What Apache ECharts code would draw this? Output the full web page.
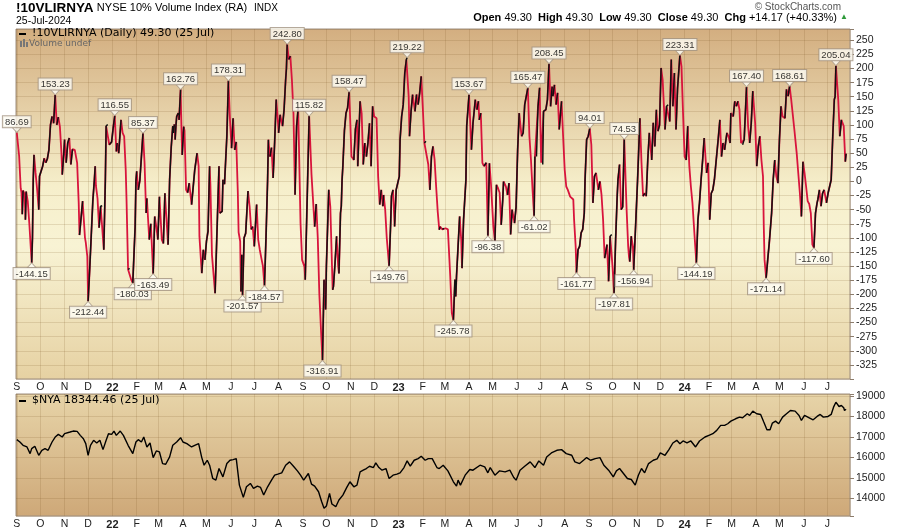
<!DOCTYPE html>
<html><head><meta charset="utf-8">
<script src="https://cdn.jsdelivr.net/npm/echarts@6/dist/echarts.min.js"></script>
<style>html,body{margin:0;padding:0;background:#fff;}#c{width:900px;height:531px;}</style>
</head><body><div id="c"></div>
<script>
const monthLetters = ['J','F','M','A','M','J','J','A','S','O','N','D'];

// !10VLIRNYA daily (vertices)
const oscData = [
['2021-09-01',86.69],['2021-09-04',45],['2021-09-06',-12],['2021-09-07',-20],['2021-09-08',-58],['2021-09-09',-16],['2021-09-11',-22],['2021-09-12',-68],['2021-09-13',-18],['2021-09-15',-35],['2021-09-17',-75],['2021-09-20',-144.15],['2021-09-21',-100],['2021-09-22',3],['2021-09-23',47],['2021-09-25',15],['2021-09-27',-15],['2021-09-29',-50],['2021-09-30',9],
['2021-10-02',12],['2021-10-04',27],['2021-10-06',41],['2021-10-08',33],['2021-10-10',40],['2021-10-12',56],['2021-10-14',100],['2021-10-16',115],['2021-10-18',103],['2021-10-20',153.23],['2021-10-22',100],['2021-10-24',114],['2021-10-26',97],['2021-10-28',50],['2021-10-29',12],['2021-10-31',50],
['2021-11-01',74],['2021-11-03',33],['2021-11-05',68],['2021-11-07',77],['2021-11-09',30],['2021-11-11',57],['2021-11-14',56],['2021-11-17',33],['2021-11-19',-38],['2021-11-20',-95],['2021-11-24',-35],['2021-11-27',-100],['2021-11-28',-108],['2021-11-30',-133],
['2021-12-01',-212.44],['2021-12-03',-156],['2021-12-07',-35],['2021-12-09',3],['2021-12-10',27],['2021-12-11',-8],['2021-12-13',-30],['2021-12-15',-82],['2021-12-17',-44],['2021-12-19',-43],['2021-12-21',-121],['2021-12-23',3],['2021-12-24',98],['2021-12-26',101],['2021-12-28',65],['2021-12-31',70],
['2022-01-02',95],['2022-01-04',116.55],['2022-01-06',53],['2022-01-07',68],['2022-01-09',50],['2022-01-12',109],['2022-01-14',86],['2022-01-16',80],['2022-01-18',20],['2022-01-19',-32],['2022-01-21',-156],['2022-01-23',-154],['2022-01-25',-174],['2022-01-27',-180.03],['2022-01-30',-80],['2022-01-31',0],
['2022-02-01',18],['2022-02-03',-15],['2022-02-05',2],['2022-02-07',44],['2022-02-09',85.37],['2022-02-11',33],['2022-02-13',-56],['2022-02-14',-30],['2022-02-17',-103],['2022-02-19',-75],['2022-02-20',-104],['2022-02-22',-163.49],['2022-02-24',-62],['2022-02-26',-80],['2022-02-28',-103],
['2022-03-02',-27],['2022-03-05',-103],['2022-03-07',-110],['2022-03-09',-21],['2022-03-11',-68],['2022-03-13',-112],['2022-03-15',3],['2022-03-17',60],['2022-03-19',98],['2022-03-20',86],['2022-03-21',101],['2022-03-22',74],['2022-03-23',98],['2022-03-24',115],['2022-03-26',121],['2022-03-27',109],['2022-03-29',162.76],['2022-03-30',100],['2022-03-31',47],
['2022-04-02',97],['2022-04-03',90],['2022-04-05',-15],['2022-04-07',-20],['2022-04-09',-3],['2022-04-12',-41],['2022-04-16',20],['2022-04-19',50],['2022-04-21',27],['2022-04-22',-97],['2022-04-25',-162.5],['2022-04-27',-121],['2022-04-29',-139],
['2022-05-01',-106],['2022-05-03',-88],['2022-05-05',27],['2022-05-06',-5],['2022-05-08',-130],['2022-05-12',-198],['2022-05-15',-62],['2022-05-17',27],['2022-05-18',-56],['2022-05-21',-53],['2022-05-22',3],['2022-05-24',-5],['2022-05-27',80],['2022-05-29',178.31],['2022-05-31',109.5],
['2022-06-02',59],['2022-06-04',112],['2022-06-06',56],['2022-06-08',70],['2022-06-10',-20],['2022-06-11',-90],['2022-06-13',-106],['2022-06-14',-195],['2022-06-15',-130],['2022-06-16',-201.57],['2022-06-18',-100],['2022-06-20',-92],['2022-06-23',-17],['2022-06-25',-44],['2022-06-27',-85],['2022-06-29',-80],
['2022-07-01',-115],['2022-07-04',-41],['2022-07-06',-103],['2022-07-08',-121],['2022-07-10',-136],['2022-07-12',-150],['2022-07-14',-184.57],['2022-07-16',-97],['2022-07-18',3],['2022-07-19',74],['2022-07-21',44],['2022-07-23',60],['2022-07-25',6],['2022-07-27',70],['2022-07-29',145],['2022-07-31',110],
['2022-08-01',86],['2022-08-03',118],['2022-08-06',98],['2022-08-08',127],['2022-08-10',180],['2022-08-11',200],['2022-08-12',242.80],['2022-08-14',216],['2022-08-16',222],['2022-08-18',180],['2022-08-20',120],['2022-08-22',-23.5],['2022-08-24',97.6],['2022-08-26',130],['2022-08-29',-74],['2022-08-31',-139],
['2022-09-03',-151],['2022-09-04',-174],['2022-09-07',0],['2022-09-09',115.82],['2022-09-12',12],['2022-09-14',12],['2022-09-16',-80],['2022-09-18',-40],['2022-09-20',-100],['2022-09-22',-200],['2022-09-24',-260],['2022-09-26',-316.91],['2022-09-28',-174],['2022-09-30',-227],
['2022-10-01',-150],['2022-10-03',-60],['2022-10-04',-14.7],['2022-10-06',-45],['2022-10-09',-192],['2022-10-10',-186],['2022-10-12',-145],['2022-10-14',-97],['2022-10-16',-150],['2022-10-17',-163],['2022-10-19',-56],['2022-10-20',-44],['2022-10-21',3],['2022-10-22',27],['2022-10-24',90],['2022-10-26',121],['2022-10-28',130],['2022-10-30',158.47],['2022-10-31',124],
['2022-11-02',44],['2022-11-05',38],['2022-11-07',92],['2022-11-09',109],['2022-11-10',27],['2022-11-13',142],['2022-11-15',120],['2022-11-17',30],['2022-11-19',68],['2022-11-21',44],['2022-11-23',68],['2022-11-25',103],['2022-11-27',27],['2022-11-29',133],
['2022-12-01',115],['2022-12-04',112],['2022-12-06',9],['2022-12-08',-41],['2022-12-10',-15],['2022-12-12',-44],['2022-12-13',-24],['2022-12-15',-50],['2022-12-17',-100],['2022-12-20',-149.76],['2022-12-22',-74],['2022-12-23',-26],['2022-12-25',-15],['2022-12-27',-80],['2022-12-29',-15],['2022-12-31',-3],
['2023-01-02',9],['2023-01-03',74],['2023-01-05',115],['2023-01-07',136],['2023-01-09',192],['2023-01-11',216],['2023-01-12',219.22],['2023-01-14',150],['2023-01-15',80],['2023-01-17',124],['2023-01-19',153.8],['2023-01-22',124],['2023-01-24',154],['2023-01-26',136],['2023-01-28',157],['2023-01-30',186],
['2023-02-01',130],['2023-02-03',68],['2023-02-05',71],['2023-02-08',30],['2023-02-10',-15],['2023-02-12',44],['2023-02-14',62],['2023-02-16',39],['2023-02-18',-9],['2023-02-20',-53],['2023-02-22',-85.7],['2023-02-23',-80],['2023-02-26',-85],['2023-02-28',-83],
['2023-03-02',-83],['2023-03-05',-85],['2023-03-08',-168],['2023-03-10',-233],['2023-03-12',-245.78],['2023-03-14',-174],['2023-03-15',-204],['2023-03-16',-168],['2023-03-18',-115],['2023-03-20',-62],['2023-03-22',-103],['2023-03-23',-153.6],['2023-03-25',-68],['2023-03-28',3],['2023-03-29',98],
['2023-04-01',153.67],['2023-04-04',56],['2023-04-06',103],['2023-04-09',145],['2023-04-11',127],['2023-04-13',142],['2023-04-14',109],['2023-04-16',121],['2023-04-18',33],['2023-04-20',27],['2023-04-23',33],['2023-04-25',-96.38],['2023-04-27',32],['2023-04-29',-5],
['2023-05-02',-80],['2023-05-04',-106],['2023-05-06',-6],['2023-05-08',-12],['2023-05-10',-20],['2023-05-12',-77],['2023-05-14',-32],['2023-05-15',0],['2023-05-16',-2],['2023-05-18',-9],['2023-05-20',-24],['2023-05-22',-3],['2023-05-24',-94],['2023-05-26',-50],['2023-05-29',-74],['2023-05-31',-45],
['2023-06-02',56],['2023-06-04',121],['2023-06-07',80],['2023-06-09',86],['2023-06-11',136],['2023-06-13',139],['2023-06-15',165.47],['2023-06-17',80],['2023-06-19',38],['2023-06-21',-15],['2023-06-23',-61.02],['2023-06-24',44],['2023-06-26',44],['2023-06-28',133],['2023-06-30',166],
['2023-07-02',33],['2023-07-04',30],['2023-07-05',124],['2023-07-08',127],['2023-07-10',145],['2023-07-12',208.45],['2023-07-14',133],['2023-07-16',168],['2023-07-17',151],['2023-07-19',171],['2023-07-21',136],['2023-07-23',157],['2023-07-25',92],['2023-07-28',142],['2023-07-30',80],
['2023-08-01',21],['2023-08-03',-9],['2023-08-05',-15],['2023-08-08',-27],['2023-08-10',-29],['2023-08-12',-32],['2023-08-13',-68],['2023-08-15',-115],['2023-08-16',-161.77],['2023-08-18',-121],['2023-08-20',-115],['2023-08-22',-91],['2023-08-24',-85],['2023-08-26',-56],['2023-08-27',3],['2023-08-29',74],['2023-08-31',80],
['2023-09-02',94.01],['2023-09-04',65],['2023-09-06',-38],['2023-09-08',9],['2023-09-10',15],['2023-09-13',-15],['2023-09-15',0],['2023-09-17',-24],['2023-09-19',-68],['2023-09-21',-136],['2023-09-24',-112],['2023-09-26',-177],['2023-09-28',-97],['2023-09-30',-94],
['2023-10-01',-150],['2023-10-03',-197.81],['2023-10-05',-103],['2023-10-07',-26],['2023-10-08',3],['2023-10-10',30],['2023-10-12',-50],['2023-10-14',-45],['2023-10-16',74.53],['2023-10-19',-50],['2023-10-21',-115],['2023-10-22',-133],['2023-10-23',-142],['2023-10-25',-97],['2023-10-27',-115],['2023-10-28',-156.94],['2023-10-31',-62],
['2023-11-02',3],['2023-11-05',112],['2023-11-07',33],['2023-11-09',-26],['2023-11-11',-21],['2023-11-13',-26],['2023-11-15',38],['2023-11-17',86],['2023-11-20',38],['2023-11-22',104],['2023-11-24',62],['2023-11-26',127],['2023-11-28',89],['2023-11-30',100],
['2023-12-02',201],['2023-12-04',180],['2023-12-07',92],['2023-12-09',133],['2023-12-11',136],['2023-12-13',106],['2023-12-15',216],['2023-12-17',133],['2023-12-19',192],['2023-12-21',92],['2023-12-23',165],['2023-12-26',223.31],['2023-12-28',204],['2023-12-30',121],
['2024-01-01',44],['2024-01-03',38],['2024-01-05',98],['2024-01-07',27],['2024-01-09',-9],['2024-01-11',-38],['2024-01-14',-103],['2024-01-16',-144.19],['2024-01-18',-68],['2024-01-20',-38],['2024-01-22',3],['2024-01-24',38],['2024-01-26',77],['2024-01-29',15],['2024-01-31',33],
['2024-02-02',-68],['2024-02-04',-21],['2024-02-06',-15],['2024-02-08',3],['2024-02-10',33],['2024-02-13',77],['2024-02-15',109],['2024-02-17',44],['2024-02-19',68],['2024-02-21',56],['2024-02-24',86],['2024-02-26',80],['2024-02-28',68],['2024-02-29',121],
['2024-03-03',115],['2024-03-05',142],['2024-03-07',133],['2024-03-09',142],['2024-03-11',127],['2024-03-13',68],['2024-03-15',65],['2024-03-17',74],['2024-03-20',167.40],['2024-03-22',98],['2024-03-24',68],['2024-03-26',103],['2024-03-28',160],['2024-03-31',103],
['2024-04-02',27],['2024-04-04',62],['2024-04-06',80],['2024-04-08',38],['2024-04-10',9],['2024-04-11',-80],['2024-04-12',-139],['2024-04-14',-171.14],['2024-04-16',-139],['2024-04-18',-109],['2024-04-21',-56],['2024-04-23',3],['2024-04-25',38],['2024-04-27',9],['2024-04-29',-3],
['2024-05-01',74],['2024-05-03',133],['2024-05-05',115],['2024-05-08',112],['2024-05-10',163],['2024-05-12',151],['2024-05-14',168.61],['2024-05-16',145],['2024-05-18',142],['2024-05-20',92],['2024-05-23',50],['2024-05-25',15],['2024-05-27',-20],['2024-05-29',-62],['2024-05-31',35],
['2024-06-02',15],['2024-06-04',-9],['2024-06-06',-35],['2024-06-08',-40],['2024-06-10',-56],['2024-06-12',-112],['2024-06-14',-117.60],['2024-06-16',-56],['2024-06-18',-38],['2024-06-19',-32],['2024-06-21',-15],['2024-06-23',-44],['2024-06-25',-21],['2024-06-27',-15],['2024-06-30',-38],
['2024-07-02',-21],['2024-07-04',-9],['2024-07-06',3],['2024-07-08',80],['2024-07-10',145],['2024-07-11',150],['2024-07-12',205.04],['2024-07-15',145],['2024-07-17',80],['2024-07-19',109],['2024-07-22',98],['2024-07-24',35.13],['2024-07-25',49.30]
];

// $NYA
const nyaData = [
['2021-09-01',16862],['2021-09-05',16749],['2021-09-09',16588],['2021-09-14',16507],['2021-09-18',16183],['2021-09-20',16426],['2021-09-24',16539],['2021-09-29',16102],
['2021-10-03',16345],['2021-10-07',16426],['2021-10-11',16345],['2021-10-16',16749],['2021-10-20',16992],['2021-10-24',17121],['2021-10-29',16992],
['2021-11-01',17154],['2021-11-08',17235],['2021-11-12',17283],['2021-11-17',17267],['2021-11-21',17073],['2021-11-25',16911],['2021-11-28',16668],
['2021-12-01',16102],['2021-12-04',16588],['2021-12-08',16830],['2021-12-12',16701],['2021-12-16',16830],['2021-12-20',16377],['2021-12-24',16830],['2021-12-27',17154],['2021-12-31',17121],
['2022-01-03',17283],['2022-01-06',17073],['2022-01-11',17283],['2022-01-15',17073],['2022-01-21',16588],['2022-01-27',16183],['2022-01-31',16749],
['2022-02-03',16862],['2022-02-07',16749],['2022-02-10',16992],['2022-02-14',16507],['2022-02-18',16701],['2022-02-22',15989],['2022-02-26',16313],
['2022-03-02',16264],['2022-03-06',15697],['2022-03-10',15665],['2022-03-15',16021],['2022-03-19',16588],['2022-03-24',16749],['2022-03-29',16960],
['2022-04-01',16749],['2022-04-06',16668],['2022-04-12',16507],['2022-04-16',16588],['2022-04-21',16668],['2022-04-25',15989],['2022-04-28',15617],
['2022-05-02',15859],['2022-05-05',15617],['2022-05-09',14970],['2022-05-13',14889],['2022-05-17',15455],['2022-05-22',15050],['2022-05-27',15697],['2022-05-31',15859],
['2022-06-04',15892],['2022-06-08',15940],['2022-06-12',14646],['2022-06-17',14047],['2022-06-21',14565],['2022-06-26',14727],['2022-06-30',14484],
['2022-07-05',14597],['2022-07-09',14533],['2022-07-13',14161],['2022-07-18',14565],['2022-07-23',14889],['2022-07-27',15131],['2022-07-31',15180],
['2022-08-05',15245],['2022-08-10',15617],['2022-08-15',15779],['2022-08-20',15568],['2022-08-25',15342],['2022-08-29',15131],
['2022-09-02',14889],['2022-09-08',15212],['2022-09-12',14695],['2022-09-16',14597],['2022-09-21',14323],['2022-09-25',13837],['2022-09-28',13514],
['2022-10-01',13627],['2022-10-05',14242],['2022-10-08',13724],['2022-10-13',13594],['2022-10-17',13918],['2022-10-22',14161],['2022-10-27',14533],['2022-10-31',14808],
['2022-11-05',14565],['2022-11-09',14646],['2022-11-13',15293],['2022-11-17',15374],['2022-11-21',15455],['2022-11-25',15568],['2022-11-30',15503],
['2022-12-03',15730],['2022-12-07',15503],['2022-12-11',15374],['2022-12-16',15455],['2022-12-20',14970],['2022-12-25',15131],['2022-12-30',15180],
['2023-01-03',15245],['2023-01-08',15503],['2023-01-12',15827],['2023-01-16',15568],['2023-01-21',15859],['2023-01-26',15940],['2023-01-30',16053],
['2023-02-04',15859],['2023-02-08',15940],['2023-02-13',15940],['2023-02-19',15503],['2023-02-22',15455],['2023-02-27',15617],
['2023-03-05',15342],['2023-03-07',15374],['2023-03-12',14808],['2023-03-16',14597],['2023-03-18',14889],['2023-03-21',14646],['2023-03-27',15131],
['2023-04-02',15406],['2023-04-06',15374],['2023-04-15',15617],['2023-04-21',15536],['2023-04-25',15245],['2023-04-28',15503],
['2023-05-04',15131],['2023-05-10',15342],['2023-05-17',15293],['2023-05-23',15374],['2023-05-28',15018],['2023-05-31',14889],
['2023-06-05',15374],['2023-06-11',15568],['2023-06-18',15779],['2023-06-24',15503],['2023-06-29',15827],
['2023-07-05',15617],['2023-07-09',16021],['2023-07-15',16215],['2023-07-22',16345],['2023-07-28',16377],
['2023-08-03',16183],['2023-08-10',16102],['2023-08-14',15779],['2023-08-20',15697],['2023-08-25',15859],['2023-08-29',15989],
['2023-09-03',15859],['2023-09-09',15940],['2023-09-15',15989],['2023-09-20',15617],['2023-09-26',15374],
['2023-10-02',15050],['2023-10-06',15342],['2023-10-10',15455],['2023-10-15',15212],['2023-10-20',14970],['2023-10-25',14921],['2023-10-30',14646],
['2023-11-03',15131],['2023-11-07',15455],['2023-11-11',15245],['2023-11-16',15697],['2023-11-22',15859],['2023-11-27',15924],
['2023-12-01',16215],['2023-12-07',16102],['2023-12-12',16377],['2023-12-17',16701],['2023-12-22',16830],['2023-12-26',16668],['2023-12-30',16798],
['2024-01-04',16701],['2024-01-09',16798],['2024-01-15',16507],['2024-01-20',16798],['2024-01-27',16992],
['2024-02-01',17073],['2024-02-06',17154],['2024-02-11',17316],['2024-02-16',17558],['2024-02-21',17558],['2024-02-25',17639],['2024-02-29',17768],
['2024-03-06',17882],['2024-03-11',17963],['2024-03-15',17930],['2024-03-21',18125],['2024-03-24',18044],['2024-03-28',18254],
['2024-04-02',18125],['2024-04-07',18093],['2024-04-11',17720],['2024-04-15',17348],['2024-04-19',17348],['2024-04-22',17671],['2024-04-26',17768],['2024-04-30',17639],
['2024-05-05',17963],['2024-05-10',18125],['2024-05-15',18287],['2024-05-21',18254],['2024-05-26',18044],['2024-05-29',17801],
['2024-06-02',18044],['2024-06-08',17930],['2024-06-13',17833],['2024-06-18',17995],['2024-06-22',18093],['2024-06-26',17963],
['2024-07-02',17995],['2024-07-06',18093],['2024-07-09',18448],['2024-07-12',18691],['2024-07-16',18480],['2024-07-19',18529],['2024-07-22',18416],['2024-07-23',18287],['2024-07-25',18344.46]
];

const peakDates = ['2021-09-01','2021-10-20','2022-01-04','2022-02-09','2022-03-29','2022-05-29','2022-08-12','2022-09-09','2022-10-30','2023-01-12','2023-04-01','2023-06-15','2023-07-12','2023-09-02','2023-10-16','2023-12-26','2024-03-20','2024-05-14','2024-07-12'];
const peakValues = [86.69,153.23,116.55,85.37,162.76,178.31,242.80,115.82,158.47,219.22,153.67,165.47,208.45,94.01,74.53,223.31,167.40,168.61,205.04];
const troughDates = ['2021-09-20','2021-12-01','2022-01-27','2022-02-22','2022-06-16','2022-07-14','2022-09-26','2022-12-20','2023-03-12','2023-04-25','2023-06-23','2023-08-16','2023-10-03','2023-10-28','2024-01-16','2024-04-14','2024-06-14'];
const troughValues = [-144.15,-212.44,-180.03,-163.49,-201.57,-184.57,-316.91,-149.76,-245.78,-96.38,-61.02,-161.77,-197.81,-156.94,-144.19,-171.14,-117.60];

function ts(s){const p=s.split('-');return new Date(+p[0],+p[1]-1,+p[2]).getTime();}
const osc = oscData.map(d=>[ts(d[0]),d[1]]);
const nya = nyaData.map(d=>[ts(d[0]),d[1]]);
// rising segments (drawn black)
const up=[]; let open=false;
for(let i=1;i<osc.length;i++){
  if(osc[i][1]>osc[i-1][1]){ if(!open){up.push(osc[i-1]);open=true;} up.push(osc[i]); }
  else if(open){ up.push([osc[i-1][0],'-']); open=false; }
}
const peaks = peakDates.map((d,i)=>[ts(d),peakValues[i]]);
const troughs = troughDates.map((d,i)=>[ts(d),troughValues[i]]);

const gridLine = {show:true,lineStyle:{color:'rgba(120,80,30,0.16)',width:1}};
function monthFmt(v){
  const d=new Date(v);
  if(d.getDate()!==1) return '';
  const m=d.getMonth();
  if(m===0) return '{y|'+String(d.getFullYear()).slice(2)+'}';
  return monthLetters[m];
}
const xBase = {
  type:'time', min:ts('2021-08-31'), max:ts('2024-07-30'),
  minInterval:27*864e5, maxInterval:31*864e5,
  axisLine:{show:false}, axisTick:{show:false}, splitLine:gridLine,
  axisLabel:{formatter:monthFmt, fontSize:10.5, color:'#222', margin:3, hideOverlap:false,
    fontFamily:'Liberation Sans', rich:{y:{fontWeight:'bold',fontSize:11,color:'#222',fontFamily:'Liberation Sans'}}}
};
const labBox = {show:true, fontSize:9.5, fontFamily:'Liberation Sans', color:'#000',
  backgroundColor:'#fffef6', borderColor:'#a39382', borderWidth:1, padding:[1,2,0,2], distance:0,
  formatter:p=>p.value[1].toFixed(2)};

const chart = echarts.init(document.getElementById('c'),null,{renderer:'canvas'});
chart.setOption({
  animation:false,
  backgroundColor:'#ffffff',
  grid:[
    {left:16,right:50,top:29,height:350,show:true,borderColor:'#9e8e7e',borderWidth:1,outerBoundsMode:'none',containLabel:false,
     backgroundColor:{type:'linear',x:0,y:0,x2:0,y2:1,colorStops:[{offset:0,color:'#d3ae80'},{offset:0.45,color:'#f6efcb'},{offset:0.62,color:'#f8f3d4'},{offset:1,color:'#e6d1a2'}]}},
    {left:16,right:50,top:394,height:122,show:true,borderColor:'#9e8e7e',borderWidth:1,outerBoundsMode:'none',containLabel:false,
     backgroundColor:{type:'linear',x:0,y:0,x2:0,y2:1,colorStops:[{offset:0,color:'#e7d4a8'},{offset:1,color:'#cea878'}]}}
  ],
  xAxis:[Object.assign({gridIndex:0},xBase), Object.assign({gridIndex:1},xBase)],
  yAxis:[
    {type:'value',gridIndex:0,position:'right',min:-350,max:270,interval:25,
     axisLine:{show:false},axisTick:{show:true,length:4,lineStyle:{color:'#8c7c6c'}},splitLine:gridLine,
     axisLabel:{formatter:v=>(v>=-325&&v<=250)?String(v):'',fontSize:10.5,color:'#222',margin:6,align:'left',fontFamily:'Liberation Sans'}},
    {type:'value',gridIndex:1,position:'right',min:13140,max:19090,splitNumber:6,
     axisLine:{show:false},axisTick:{show:true,length:4,lineStyle:{color:'#8c7c6c'}},splitLine:gridLine,
     axisLabel:{formatter:v=>(v%1000===0)?String(v):'',fontSize:10.5,color:'#222',margin:6,align:'left',fontFamily:'Liberation Sans'}}
  ],
  series:[
    {type:'line',xAxisIndex:0,yAxisIndex:0,data:osc,showSymbol:false,symbol:'none',z:2,silent:true,
     lineStyle:{color:'#d8143c',width:1.8}},
    {type:'line',xAxisIndex:0,yAxisIndex:0,data:up,showSymbol:false,symbol:'none',z:3,silent:true,connectNulls:false,
     lineStyle:{color:'#111111',width:1.5}},
    {type:'scatter',xAxisIndex:0,yAxisIndex:0,data:peaks,z:10,silent:true,
     symbol:'path://M0,0L10,0L5,6Z',symbolSize:[9,5],symbolOffset:[0,'-50%'],
     itemStyle:{color:'#fffef6',borderColor:'#a39382',borderWidth:0.8},
     label:Object.assign({position:'top'},labBox)},
    {type:'scatter',xAxisIndex:0,yAxisIndex:0,data:troughs,z:10,silent:true,
     symbol:'path://M5,0L10,6L0,6Z',symbolSize:[9,5],symbolOffset:[0,'50%'],
     itemStyle:{color:'#fffef6',borderColor:'#a39382',borderWidth:0.8},
     label:Object.assign({position:'bottom'},labBox)},
    {type:'line',xAxisIndex:1,yAxisIndex:1,data:nya,showSymbol:false,symbol:'none',z:2,silent:true,
     lineStyle:{color:'#000000',width:1.4}}
  ],
  graphic:[
    {type:'text',left:16,top:1,z:100,style:{text:'{b|!10VLIRNYA} {n|NYSE 10% Volume Index (RA)}  {s|INDX}',
      rich:{b:{fontSize:13.5,fontWeight:'bold',fontFamily:'Liberation Sans',fill:'#000'},
            n:{fontSize:11,fontFamily:'Liberation Sans',fill:'#000'},
            s:{fontSize:10,fontFamily:'Liberation Sans',fill:'#000'}}}},
    {type:'text',left:16,top:16,z:100,style:{text:'25-Jul-2024',fontSize:10.5,fontFamily:'Liberation Sans',fill:'#000'}},
    {type:'text',right:59,top:2,z:100,style:{text:'\u00a9 StockCharts.com',fontSize:10,fontFamily:'Liberation Sans',fill:'#555'}},
    {type:'text',right:63,top:12,z:100,style:{text:'{b|Open} 49.30  {b|High} 49.30  {b|Low} 49.30  {b|Close} 49.30  {b|Chg} +14.17 (+40.33%)',
      fontSize:11,fontFamily:'Liberation Sans',fill:'#000',
      rich:{b:{fontSize:11,fontWeight:'bold',fontFamily:'Liberation Sans',fill:'#000'}}}},
    {type:'text',right:52,top:13,z:100,style:{text:'\u25b2',fontSize:8,fill:'#2e9a3a'}},
    {type:'rect',shape:{x:19,y:33,width:7,height:2},style:{fill:'#000'},z:100},
    {type:'text',left:32,top:28,z:100,style:{text:'!10VLIRNYA (Daily) 49.30 (25 Jul)',fontSize:11,fontFamily:'DejaVu Sans',fill:'#000'}},
    {type:'rect',shape:{x:20,y:41,width:2,height:6},style:{fill:'#777'},z:100},
    {type:'rect',shape:{x:23,y:39,width:2,height:8},style:{fill:'#777'},z:100},
    {type:'rect',shape:{x:26,y:42,width:2,height:5},style:{fill:'#777'},z:100},
    {type:'text',left:29,top:39,z:100,style:{text:'Volume undef',fontSize:9,fontFamily:'DejaVu Sans',fill:'#666'}},
    {type:'rect',shape:{x:19,y:400,width:7,height:2},style:{fill:'#000'},z:100},
    {type:'text',left:32,top:395,z:100,style:{text:'$NYA 18344.46 (25 Jul)',fontSize:11,fontFamily:'DejaVu Sans',fill:'#000'}}
  ]
});
</script>
</body></html>
